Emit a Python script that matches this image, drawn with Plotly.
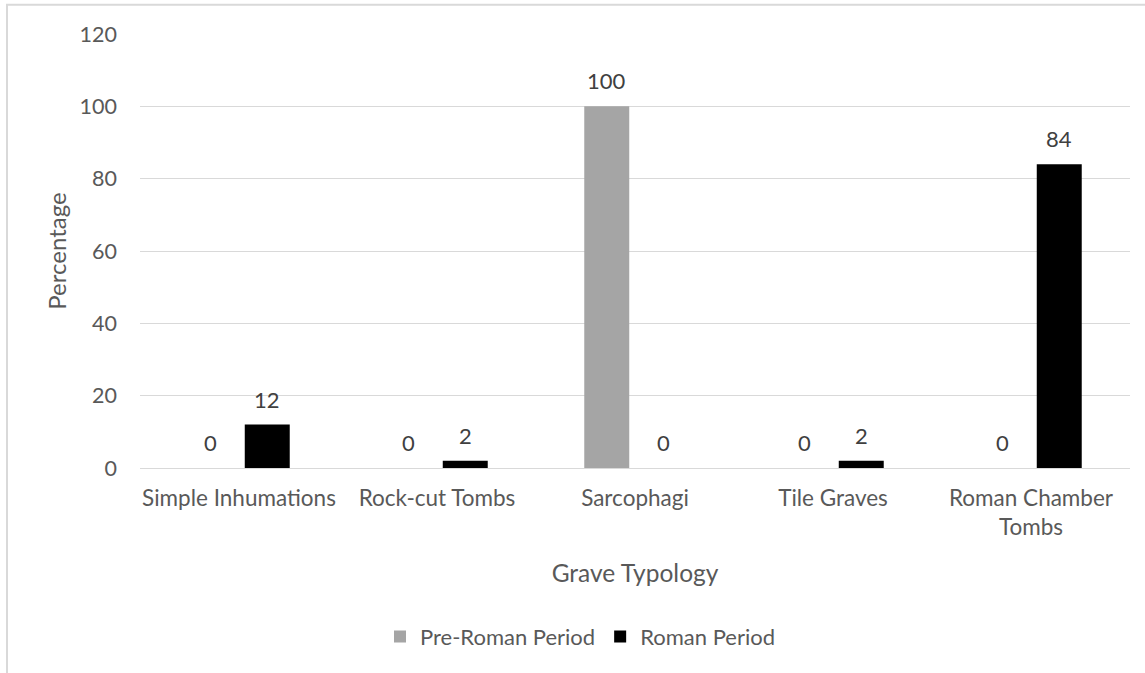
import plotly.graph_objects as go

# Grave typology shares by period (percent)
categories = ["Simple Inhumations", "Rock-cut Tombs", "Sarcophagi", "Tile Graves", "Roman Chamber Tombs"]
tick_text = ["Simple Inhumations", "Rock-cut Tombs", "Sarcophagi", "Tile Graves", "Roman Chamber<br>Tombs"]
pre_roman = [0, 0, 100, 0, 0]
roman = [12, 2, 0, 2, 84]
series_names = ["Pre-Roman Period", "Roman Period"]
series_colors = ["#a5a5a5", "#000000"]
y_ticks = [0, 20, 40, 60, 80, 100, 120]

FONT = "Lato"
TEXT_COLOR = "#595959"
GRID = "#d9d9d9"

fig = go.Figure()
for name, vals, col in zip(series_names, [pre_roman, roman], series_colors):
    fig.add_trace(go.Bar(
        x=categories, y=vals, name=name,
        marker=dict(color=col, line=dict(width=0)),
    ))

# value labels above each bar
plot_w = 990
slot = plot_w / len(categories) * (1 - 0.4293) / 2
annotations = []
for k, vals in enumerate([pre_roman, roman]):
    shift = (-0.5 + k) * slot
    for c, v in zip(categories, vals):
        annotations.append(dict(
            x=c, y=v, xref="x", yref="y", text=str(v), showarrow=False,
            xshift=shift, yshift=10, yanchor="bottom",
            font=dict(family=FONT, size=22, color="#404040"),
        ))

fig.update_layout(
    width=1145, height=673,
    margin=dict(l=140, r=15, t=34, b=205),
    paper_bgcolor="white", plot_bgcolor="white",
    barmode="group", bargap=0.4293, bargroupgap=0.204,
    font=dict(family=FONT, size=22, color=TEXT_COLOR),
    showlegend=True,
    legend=dict(
        orientation="h", x=(380 - 140) / 990, xanchor="left",
        y=(468.3 - 637) / 434, yanchor="middle",
        font=dict(family=FONT, size=22, color=TEXT_COLOR),
        itemwidth=30, traceorder="normal",
    ),
    xaxis=dict(
        tickmode="array", tickvals=categories, ticktext=tick_text,
        showgrid=False, showline=False, ticks="", ticklabelstandoff=14,
        tickfont=dict(family=FONT, size=22.5, color=TEXT_COLOR),
        title=dict(text="Grave Typology", font=dict(family=FONT, size=24.5, color=TEXT_COLOR), standoff=26),
    ),
    yaxis=dict(
        range=[0, 120], tickvals=y_ticks,
        showgrid=True, gridcolor=GRID, gridwidth=1.3,
        zeroline=True, zerolinecolor=GRID, zerolinewidth=1.3,
        showline=False, ticks="", ticklabelstandoff=22,
        tickfont=dict(family=FONT, size=21.5, color=TEXT_COLOR),
        title=dict(text="Percentage", font=dict(family=FONT, size=24, color=TEXT_COLOR), standoff=6),
    ),
    annotations=annotations,
    shapes=[dict(
        type="rect", xref="paper", yref="paper",
        x0=(7 - 140) / 990, x1=1.2, y0=-1.0, y1=(468.3 - 5) / 434,
        line=dict(color=GRID, width=2), fillcolor="rgba(0,0,0,0)", layer="below",
    )],
)

fig.write_html("out.html")
